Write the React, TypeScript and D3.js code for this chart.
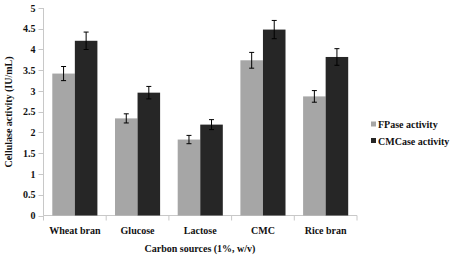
import React from "react";
import * as d3 from "d3";

const categories = ["Wheat bran", "Glucose", "Lactose", "CMC", "Rice bran"];
const seriesNames = ["FPase activity", "CMCase activity"];
const fpase = [3.42, 2.34, 1.83, 3.74, 2.87];
const fpaseErr = [0.17, 0.11, 0.1, 0.19, 0.14];
const cmcase = [4.21, 2.96, 2.19, 4.48, 3.82];
const cmcaseErr = [0.21, 0.15, 0.12, 0.22, 0.2];
const yTicks = [0, 0.5, 1, 1.5, 2, 2.5, 3, 3.5, 4, 4.5, 5];
const colors = ["#a6a6a6", "#262626"];

export default function App() {
  const W = 454, H = 255;
  const x0 = 43.5, x1 = 357;
  const yTop = 8, yBot = 215.5;
  const x = d3.scaleBand<string>().domain(categories).range([x0, x1]).paddingInner(0).paddingOuter(0);
  const inner = d3.scaleBand<number>().domain([0, 1]).range([0, x.bandwidth()]).paddingInner(0).paddingOuter(0.39);
  const y = d3.scaleLinear().domain([0, 5]).range([yBot, yTop]);
  const series = [
    { vals: fpase, errs: fpaseErr },
    { vals: cmcase, errs: cmcaseErr },
  ];
  const font = "'Liberation Serif', 'Times New Roman', serif";
  const boundaries = d3.range(categories.length + 1).map((i) => x0 + i * x.step());
  return (
    <svg width={W} height={H} style={{ position: "absolute", left: 0, top: 0 }} fontFamily={font} fontWeight="bold">
      <rect width={W} height={H} fill="#fff" />
      {/* y axis */}
      <line x1={x0} x2={x0} y1={yTop} y2={yBot} stroke="#c8c8c8" strokeWidth={1} />
      {yTicks.map((t) => (
        <g key={t}>
          <line x1={x0 - 5} x2={x0} y1={Math.round(y(t)) + 0.5} y2={Math.round(y(t)) + 0.5} stroke="#c8c8c8" />
          <text x={35.5} y={y(t)} dy="0.35em" textAnchor="end" fontSize={10} fill="#111">{t}</text>
        </g>
      ))}
      {/* x axis */}
      <line x1={x0} x2={x1} y1={yBot} y2={yBot} stroke="#c8c8c8" />
      {boundaries.map((b, i) => (
        <line key={i} x1={b} x2={b} y1={yBot} y2={yBot + 5} stroke="#c8c8c8" />
      ))}
      {categories.map((c) => (
        <text key={c} x={(x(c) as number) + x.bandwidth() / 2} y={234} textAnchor="middle" fontSize={10} fill="#111">{c}</text>
      ))}
      {/* bars */}
      {categories.map((c, i) =>
        series.map((s, j) => {
          const bx = (x(c) as number) + (inner(j) as number);
          const bw = inner.bandwidth();
          const v = s.vals[i];
          const e = s.errs[i];
          const cx = bx + bw / 2;
          return (
            <g key={c + j}>
              <rect x={bx} y={y(v)} width={bw} height={yBot - y(v)} fill={colors[j]} />
              <line x1={cx} x2={cx} y1={y(v + e)} y2={y(v - e)} stroke="#000" strokeWidth={1} />
              <line x1={cx - 2.5} x2={cx + 2.5} y1={y(v + e)} y2={y(v + e)} stroke="#000" strokeWidth={1} />
              <line x1={cx - 2.5} x2={cx + 2.5} y1={y(v - e)} y2={y(v - e)} stroke="#000" strokeWidth={1} />
            </g>
          );
        })
      )}
      {/* axis titles */}
      <text transform={`translate(12,${112}) rotate(-90)`} textAnchor="middle" fontSize={10} fill="#111">Cellulase activity (IU/mL)</text>
      <text x={200} y={252} textAnchor="middle" fontSize={10} fill="#111">Carbon sources (1%, w/v)</text>
      {/* legend */}
      {seriesNames.map((n, j) => (
        <g key={n} transform={`translate(371,${124.5 + j * 16.5})`}>
          <rect x={0} y={-3} width={5} height={5} fill={colors[j]} />
          <text x={7} y={0} dy="0.35em" fontSize={10} fill="#111">{n}</text>
        </g>
      ))}
    </svg>
  );
}
